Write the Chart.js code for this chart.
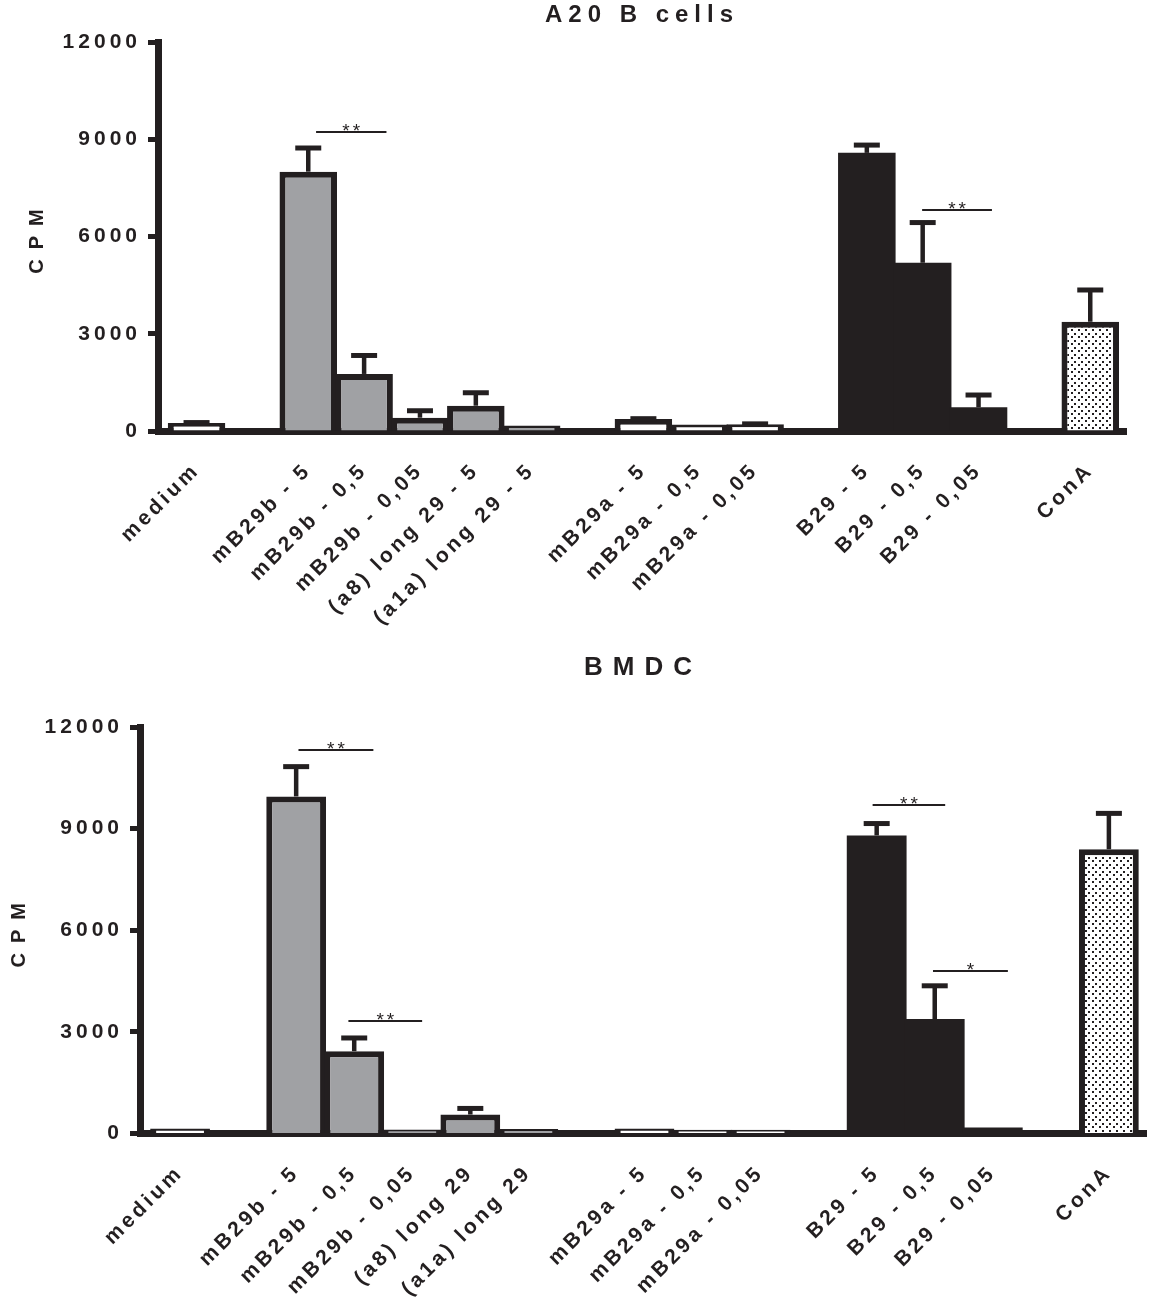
<!DOCTYPE html>
<html>
<head>
<meta charset="utf-8">
<title>A20 B cells / BMDC</title>
<script src="https://cdn.jsdelivr.net/npm/chart.js@4.4.1/dist/chart.umd.min.js"></script>
<style>
  html, body { margin: 0; padding: 0; background: #fff; }
  .panel { position: absolute; left: 0; }
  #top { top: 0; }
  #bottom { top: 650px; }
</style>
</head>
<body>
<div class="panel" id="top"><canvas id="a20" width="1154" height="650"></canvas></div>
<div class="panel" id="bottom"><canvas id="bmdc" width="1154" height="664"></canvas></div>
<script>
// one slot per bar, '' is an empty slot between groups
const labelsA20 = ['medium', '', 'mB29b - 5', 'mB29b - 0,5', 'mB29b - 0,05', '(a8) long 29 - 5', '(a1a) long 29 - 5', '',
  'mB29a - 5', 'mB29a - 0,5', 'mB29a - 0,05', '', 'B29 - 5', 'B29 - 0,5', 'B29 - 0,05', '', 'ConA'];
const labelsBMDC = ['medium', '', 'mB29b - 5', 'mB29b - 0,5', 'mB29b - 0,05', '(a8) long 29', '(a1a) long 29', '',
  'mB29a - 5', 'mB29a - 0,5', 'mB29a - 0,05', '', 'B29 - 5', 'B29 - 0,5', 'B29 - 0,05', '', 'ConA'];

// mean CPM and SEM (upper whisker)
const cpmA20 = [250, null, 8000, 1760, 410, 780, 170, null, 370, 200, 210, null, 8580, 5190, 730, null, 3370];
const semA20 = [10, null, 730, 570, 215, 400, 0, null, 10, 0, 10, null, 240, 1240, 380, null, 980];
const cpmBMDC = [150, null, 9950, 2430, 120, 560, 130, null, 150, 110, 110, null, 8800, 3380, 180, null, 8390];
const semBMDC = [0, null, 880, 390, 0, 180, 0, null, 0, 0, 0, null, 350, 980, 0, null, 1060];

const yTicks = [0, 3000, 6000, 9000, 12000];

// significance bars, from/to in slot units
const sigA20 = [
  { from: 2.14, to: 3.40, level: 9220, mark: '**' },
  { from: 12.99, to: 14.24, level: 6820, mark: '**' }
];
const sigBMDC = [
  { from: 2.04, to: 3.33, level: 11320, mark: '**' },
  { from: 2.90, to: 4.17, level: 3320, mark: '**' },
  { from: 11.93, to: 13.18, level: 9700, mark: '**' },
  { from: 12.97, to: 14.26, level: 4800, mark: '*' }
];

const INK = '#231f20';
const GRAY = '#a0a1a4';
const FONT = "'Liberation Sans', Arial, sans-serif";

function dotPattern() {
  const c = document.createElement('canvas');
  c.width = 7; c.height = 7;
  const g = c.getContext('2d');
  g.fillStyle = '#fff';
  g.fillRect(0, 0, 7, 7);
  g.fillStyle = INK;
  g.fillRect(0, 0, 2, 2);
  g.fillRect(3, 4, 2, 2);
  return g.createPattern(c, 'repeat');
}
const dots = dotPattern();

function fillFor(label) {
  if (label === 'medium' || label.startsWith('mB29a')) return '#fff';
  if (label.startsWith('B29')) return INK;
  if (label === 'ConA') return dots;
  return GRAY;
}

// canvas letterSpacing around a draw method
function spaced(obj, method, spacing) {
  const orig = obj[method];
  obj[method] = function(...args) {
    this.ctx.save();
    this.ctx.letterSpacing = spacing;
    orig.apply(this, args);
    this.ctx.restore();
  };
}

const spacingPlugin = {
  id: 'spacing',
  beforeDraw(chart, args, opts) {
    if (chart.$spaced) return;
    chart.$spaced = true;
    spaced(chart.scales.x, 'drawLabels', '3.5px');
    spaced(chart.scales.y, 'drawLabels', '4px');
    spaced(chart.scales.y, 'drawTitle', '10px');
    spaced(chart.titleBlock, 'draw', opts.title);
  }
};

const errorBarPlugin = {
  id: 'errorBars',
  afterDatasetsDraw(chart, args, opts) {
    const { ctx, scales: { y } } = chart;
    const meta = chart.getDatasetMeta(0);
    ctx.save();
    ctx.strokeStyle = INK;
    ctx.lineCap = 'butt';
    meta.data.forEach((bar, n) => {
      const i = opts.slots[n];
      const sem = opts.sem[i];
      if (!sem) return;
      const top = y.getPixelForValue(opts.values[i]);
      const cap = y.getPixelForValue(opts.values[i] + sem);
      ctx.lineWidth = 4.5;
      ctx.beginPath();
      ctx.moveTo(bar.x, top);
      ctx.lineTo(bar.x, cap);
      ctx.stroke();
      ctx.lineWidth = 5;
      ctx.beginPath();
      ctx.moveTo(bar.x - 13, cap);
      ctx.lineTo(bar.x + 13, cap);
      ctx.stroke();
    });
    ctx.restore();
  }
};

const sigPlugin = {
  id: 'sigBars',
  afterDatasetsDraw(chart, args, opts) {
    const { ctx, scales: { x, y } } = chart;
    ctx.save();
    ctx.strokeStyle = INK;
    ctx.fillStyle = INK;
    ctx.lineWidth = 2;
    ctx.font = '19px ' + FONT;
    ctx.textAlign = 'center';
    ctx.textBaseline = 'alphabetic';
    ctx.letterSpacing = '3px';
    opts.items.forEach(s => {
      const x1 = x.getPixelForValue(s.from), x2 = x.getPixelForValue(s.to);
      const py = y.getPixelForValue(s.level);
      ctx.beginPath();
      ctx.moveTo(x1, py);
      ctx.lineTo(x2, py);
      ctx.stroke();
      ctx.fillText(s.mark, (x1 + x2) / 2 + 1.5, py + 5);
    });
    ctx.restore();
  }
};

function makeChart(id, o) {
  const slots = o.values.map((v, i) => i).filter(i => o.values[i] != null);
  const ctx = document.getElementById(id).getContext('2d');
  return new Chart(ctx, {
    type: 'bar',
    data: {
      datasets: [{
        data: slots.map(i => ({ x: i, y: o.values[i] })),
        backgroundColor: slots.map(i => fillFor(o.labels[i])),
        borderColor: INK,
        borderWidth: slots.map(i => o.labels[i].startsWith('B29') ? 0 : 6),
        borderSkipped: 'start',
        categoryPercentage: 1,
        barPercentage: 1.03
      }]
    },
    options: {
      responsive: false,
      animation: false,
      layout: { padding: { left: 0, right: o.padRight, top: 0, bottom: 0 } },
      plugins: {
        legend: { display: false },
        tooltip: { enabled: false },
        title: {
          display: true,
          text: o.title,
          fullSize: false,
          color: INK,
          font: { family: FONT, size: o.titleSize, weight: 'bold', lineHeight: 1.2 },
          padding: o.titlePad
        },
        spacing: { title: o.titleSpacing },
        errorBars: { slots: slots, values: o.values, sem: o.sem },
        sigBars: { items: o.sig }
      },
      scales: {
        x: {
          type: 'linear',
          min: -0.69,
          max: 16.64,
          offset: false,
          z: 1,
          afterBuildTicks: s => { s.ticks = o.labels.map((l, i) => ({ value: i })); },
          afterFit: s => { s.height = o.xHeight; },
          grid: { drawOnChartArea: false, drawTicks: false, offset: false },
          border: { display: true, width: 7, color: INK },
          ticks: {
            autoSkip: false,
            minRotation: 45,
            maxRotation: 45,
            padding: 27,
            color: INK,
            font: { family: FONT, size: 21, weight: 'bold' },
            callback: v => o.labels[v]
          }
        },
        y: {
          min: 0,
          max: 12000,
          afterBuildTicks: s => { s.ticks = yTicks.map(v => ({ value: v })); },
          afterFit: s => { s.width = o.yWidth; },
          grid: { drawOnChartArea: false, tickLength: 10, tickWidth: 5, tickColor: INK },
          border: { display: true, width: 7, color: INK },
          ticks: {
            padding: 7,
            color: INK,
            font: { family: FONT, size: 21, weight: 'bold' },
            callback: v => String(v)
          },
          title: {
            display: true,
            text: 'CPM',
            color: INK,
            font: { family: FONT, size: 20, weight: 'bold', lineHeight: 1.2 },
            padding: { top: o.yTitlePad, bottom: 0 }
          }
        }
      }
    },
    plugins: [spacingPlugin, errorBarPlugin, sigPlugin]
  });
}

makeChart('a20', {
  title: 'A20 B cells', titleSize: 24, titleSpacing: '6px', titlePad: { top: 1, bottom: 12.2 },
  labels: labelsA20, values: cpmA20, sem: semA20, sig: sigA20,
  yWidth: 158, padRight: 28, xHeight: 219, yTitlePad: 25
});

makeChart('bmdc', {
  title: 'BMDC', titleSize: 26, titleSpacing: '10px', titlePad: { top: 1.9, bottom: 43.9 },
  labels: labelsBMDC, values: cpmBMDC, sem: semBMDC, sig: sigBMDC,
  yWidth: 140, padRight: 7, xHeight: 180.5, yTitlePad: 7
});
</script>
</body>
</html>
